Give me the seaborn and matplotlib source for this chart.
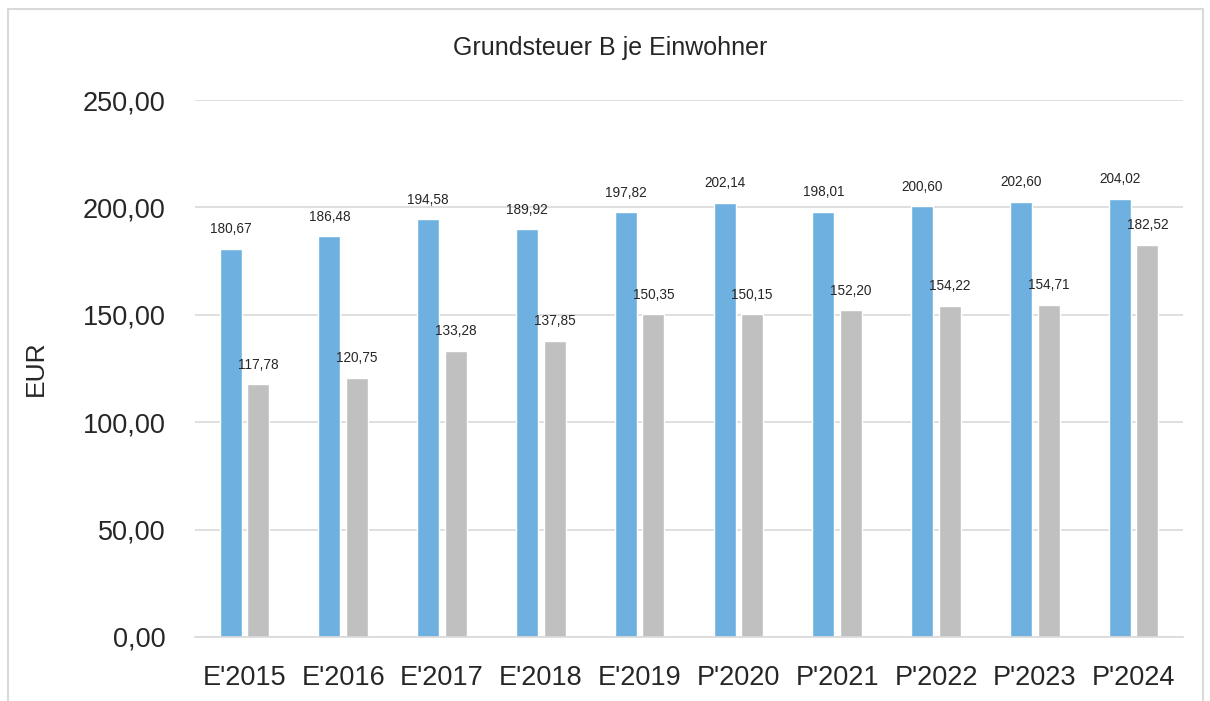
import matplotlib
matplotlib.use("Agg")
import matplotlib.pyplot as plt
import seaborn as sns
import pandas as pd
from matplotlib.patches import Rectangle
from matplotlib.ticker import FuncFormatter

categories = ["E'2015", "E'2016", "E'2017", "E'2018", "E'2019",
              "P'2020", "P'2021", "P'2022", "P'2023", "P'2024"]
series_a = [180.67, 186.48, 194.58, 189.92, 197.82, 202.14, 198.01, 200.60, 202.60, 204.02]
series_b = [117.78, 120.75, 133.28, 137.85, 150.35, 150.15, 152.20, 154.22, 154.71, 182.52]
series_names = ["A", "B"]
title = "Grundsteuer B je Einwohner"
ylabel = "EUR"

sns.set_theme(style="white")
plt.rcParams['font.family'] = ['Liberation Sans Narrow', 'Liberation Sans', 'DejaVu Sans']

df = pd.DataFrame({
    "cat": categories * 2,
    "val": series_a + series_b,
    "ser": [series_names[0]] * len(categories) + [series_names[1]] * len(categories),
})

fig = plt.figure(figsize=(12.1, 7.01), dpi=100)
ax = fig.add_axes([195 / 1210, 64 / 701, 988 / 1210, 537 / 701])

sns.barplot(data=df, x="cat", y="val", hue="ser", order=categories,
            hue_order=series_names, palette=["#6EB0E0", "#C0C0C0"],
            width=0.56, gap=0.2, legend=False, ax=ax, saturation=1)

ax.set_ylim(0, 250)
ax.set_xlim(-0.5, len(categories) - 0.5)
ax.set_yticks([0, 50, 100, 150, 200, 250])
ax.yaxis.set_major_formatter(FuncFormatter(lambda v, p: f"{v:.2f}".replace('.', ',')))
ax.grid(axis='y', color='#D9D9D9', linewidth=1.2)
ax.set_axisbelow(True)
for s in ['top', 'right', 'left']:
    ax.spines[s].set_visible(False)
ax.spines['bottom'].set_color('#D9D9D9')
ax.spines['bottom'].set_linewidth(1.2)
ax.tick_params(axis='both', length=0, labelsize=19.5, colors='#262626')
ax.tick_params(axis='y', pad=21)
ax.tick_params(axis='x', pad=20)
ax.set_xlabel("")
ax.set_ylabel(ylabel, fontsize=19, color='#262626')
ax.yaxis.set_label_coords(-0.149, 0.5)

for cont in ax.containers:
    labels = [f"{b.get_height():.2f}".replace('.', ',') for b in cont]
    ax.bar_label(cont, labels=labels, padding=9, fontsize=9.8, color='#262626')

fig.text(610 / 1210, 1 - 48 / 701, title, ha='center', va='center', fontsize=18, color='#262626')

fig.patches.append(Rectangle((8 / 1210, -0.01), 1195 / 1210, 1 - 9 / 701 + 0.01,
                             transform=fig.transFigure, fill=False,
                             edgecolor='#D9D9D9', linewidth=1.5))

fig.savefig("out.png", dpi=100)
